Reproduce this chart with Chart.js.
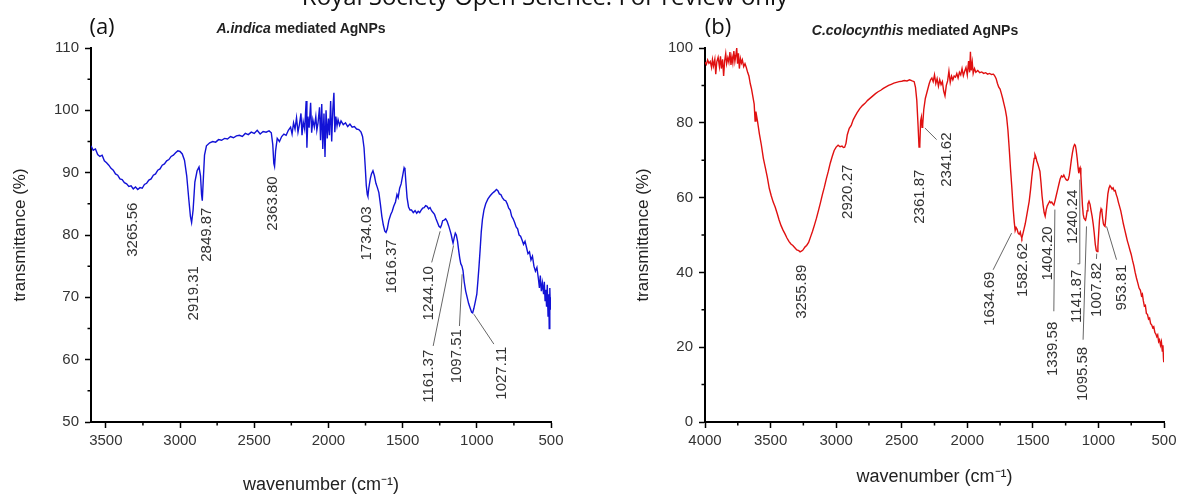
<!DOCTYPE html>
<html>
<head>
<meta charset="utf-8">
<script src="https://cdn.jsdelivr.net/npm/chart.js@4"></script>
<style>
  body { margin: 0; background: #fff; }
  #page { position: relative; width: 1184px; height: 502px; overflow: hidden; font-family: "Liberation Sans", Arial, sans-serif; }
  canvas { position: absolute; top: 0; }
  .txt { position: absolute; white-space: nowrap; transform: translate(-50%, -50%); color: #111; z-index: 2; }
  .hdr { font-family: "Open Sans", sans-serif; font-size: 24px; line-height: 1; transform: translateX(-50%); top: -16px; left: 545px; }
  .pan { font-family: "Open Sans", sans-serif; font-size: 22px; line-height: 1; }
  .ttl { font-weight: bold; font-size: 14px; color: #222; }
</style>
</head>
<body>
<div id="page">
  <div class="txt hdr">Royal Society Open Science: For review only</div>
  <div class="txt pan" style="left:102px; top:25px;">(a)</div>
  <div class="txt pan" style="left:718px; top:25px;">(b)</div>
  <div class="txt ttl" style="left:301px; top:28px;"><i>A.indica</i> mediated AgNPs</div>
  <div class="txt ttl" style="left:915px; top:30px;"><i>C.colocynthis</i> mediated AgNPs</div>
  <canvas id="chartA" width="592" height="502" style="left:0"></canvas>
  <canvas id="chartB" width="592" height="502" style="left:592px"></canvas>
</div>
<script>
// (a) A.indica spectrum
const aWave = [3600,3585,3570,3555,3540,3525,3510,3495,3480,3465,3450,3435,3420,3405,3390,3375,3360,3345,3330,3315,
  3300,3285,3270,3255,3240,3225,3210,3195,3180,3165,3150,3135,3120,3105,3090,3075,3060,3045,3030,3015,
  3000,2985,2970,2955,2940,2930,2922,2912,2900,2885,2872,2862,2855,2850,2843,2835,2822,2800,2780,2760,
  2740,2720,2700,2680,2660,2640,2620,2600,2580,2560,2540,2520,2500,2480,2460,2440,2420,2400,2385,2375,
  2368,2363,2356,2345,2330,2315,2300,2285,2270,2255,2245,2235,2225,2215,2205,2195,2185,2178,2170,2160,
  2150,2145,2138,2130,2120,2113,2105,2095,2085,2078,2070,2060,2053,2045,2038,2030,2023,2016,2008,2000,
  1993,1985,1978,1970,1963,1957,1950,1942,1935,1925,1915,1900,1885,1870,1855,1840,1825,1810,1795,1780,
  1770,1760,1752,1745,1738,1734,1728,1718,1710,1700,1690,1680,1670,1660,1650,1640,1630,1620,1612,1603,
  1593,1580,1570,1560,1548,1538,1530,1520,1510,1500,1490,1484,1478,1470,1460,1450,1440,1428,1416,1405,
  1395,1385,1375,1365,1355,1345,1335,1325,1315,1305,1295,1285,1275,1265,1255,1245,1238,1230,1220,1210,
  1200,1190,1180,1172,1165,1160,1153,1145,1138,1130,1122,1115,1108,1100,1093,1085,1075,1065,1055,1045,
  1035,1028,1020,1010,1000,992,985,978,970,962,952,940,925,910,895,880,868,858,848,838,
  828,815,805,795,785,775,765,755,745,735,725,715,705,695,685,675,665,655,645,635,
  625,615,605,595,585,578,572,565,558,550,545,540,535,530,525,520,515,512,508,504,500];
const aTrans = [94.3,93.6,93.8,92.9,92.6,92.8,91.9,91.6,91.2,90.7,90.4,89.8,89.6,89.0,88.9,88.4,88.2,87.8,87.9,87.4,
  87.7,87.3,87.6,87.5,88.1,88.3,88.8,89.0,89.6,89.8,90.4,90.6,91.2,91.4,91.9,92.1,92.6,92.8,93.2,93.5,
  93.4,93.0,92.0,89.5,85.5,83.0,82.0,84.0,88.5,90.3,90.9,89.5,86.5,85.5,89.0,92.8,94.3,94.8,95.0,94.9,
  95.3,95.2,95.5,95.4,95.8,95.6,95.9,96.0,95.8,96.3,96.1,96.5,96.3,96.8,96.2,96.6,96.5,96.7,96.4,94.5,
  91.5,91.0,93.5,95.5,95.0,95.8,96.2,96.0,96.8,97.3,96.2,98.0,97.0,98.8,96.5,97.8,99.5,96.0,98.2,97.0,
  101.5,94.0,99.0,97.2,101.2,96.4,98.5,97.3,99.0,96.8,98.0,100.5,95.2,101.0,93.8,99.5,92.5,100.0,95.5,98.7,
  96.0,101.5,95.0,100.2,102.8,96.5,99.0,97.5,98.5,97.6,98.3,97.7,98.0,97.4,97.8,97.3,97.4,97.0,96.9,96.5,
  95.8,94.0,91.0,88.0,86.5,86.2,87.5,89.0,89.8,90.3,89.5,88.3,87.6,86.8,85.0,83.0,81.6,80.6,80.4,81.0,
  82.3,83.3,83.8,84.6,85.3,86.5,86.0,87.5,88.2,89.5,90.8,90.5,88.5,86.0,84.5,84.0,84.0,83.6,83.9,83.5,
  83.8,83.6,84.0,84.3,84.4,84.7,84.6,84.2,84.4,83.9,83.6,83.3,82.6,82.0,81.4,81.2,81.6,82.3,82.4,82.6,
  82.2,81.5,80.7,80.0,79.2,78.7,79.5,80.3,80.0,79.0,77.5,76.3,75.4,75.0,74.3,72.5,71.0,70.0,69.0,68.3,
  67.6,67.5,68.2,69.3,70.5,72.8,75.0,77.5,80.5,82.5,84.0,85.0,85.8,86.3,86.7,87.0,87.3,87.1,86.6,86.5,
  86.0,85.6,85.5,85.0,84.3,84.0,83.0,82.6,82.0,81.3,81.0,80.0,79.8,79.2,78.5,79.0,78.0,77.0,77.3,76.0,
  76.6,75.0,74.2,74.8,73.0,71.5,73.5,71.0,72.3,70.5,72.5,69.5,71.2,68.5,72.0,67.0,70.5,65.0,71.5,68.0,70.0];

// (b) C.colocynthis spectrum
const bWave = [4000,3990,3980,3970,3960,3950,3943,3935,3925,3918,3910,3900,3890,3882,3875,3866,3858,3850,3842,3835,
  3826,3818,3810,3802,3795,3788,3780,3772,3765,3758,3752,3745,3738,3730,3722,3715,3705,3695,3685,3675,
  3665,3655,3645,3635,3625,3618,3612,3600,3585,3570,3555,3540,3525,3510,3495,3480,3465,3450,3435,3420,
  3405,3390,3375,3360,3345,3330,3315,3300,3285,3275,3265,3255,3245,3235,3225,3210,3195,3180,3165,3150,
  3135,3120,3105,3090,3075,3060,3045,3030,3015,3000,2985,2970,2955,2945,2935,2925,2915,2900,2885,2870,
  2855,2840,2820,2800,2780,2760,2740,2720,2700,2680,2660,2640,2620,2600,2580,2560,2540,2520,2500,2480,
  2460,2440,2420,2405,2395,2385,2375,2368,2362,2356,2350,2345,2340,2332,2320,2305,2290,2280,2270,2260,
  2250,2240,2230,2220,2210,2200,2190,2180,2170,2160,2150,2140,2130,2120,2110,2100,2090,2080,2070,2060,
  2050,2040,2030,2020,2010,2000,1990,1982,1976,1970,1962,1955,1945,1935,1920,1905,1890,1875,1860,1845,
  1830,1815,1800,1790,1780,1770,1760,1750,1740,1730,1720,1710,1700,1690,1680,1670,1660,1650,1642,1635,
  1628,1620,1612,1604,1596,1590,1584,1576,1568,1558,1548,1538,1528,1518,1508,1498,1490,1484,1478,1470,
  1462,1454,1446,1438,1430,1422,1414,1406,1398,1390,1380,1372,1364,1356,1348,1340,1332,1322,1312,1302,
  1292,1282,1272,1264,1255,1246,1238,1230,1222,1214,1206,1198,1190,1182,1176,1170,1162,1155,1150,1146,
  1140,1134,1128,1122,1116,1110,1104,1098,1092,1086,1080,1072,1064,1056,1048,1040,1032,1024,1016,1010,
  1004,998,992,986,980,974,968,962,956,950,944,936,928,920,912,904,896,888,880,872,
  864,856,848,840,830,820,810,800,790,780,770,760,750,740,730,720,710,700,690,680,
  672,665,658,650,642,634,626,618,610,602,594,586,578,570,562,555,548,541,534,527,
  520,513,508,504,502,500];
const bTrans = [96.2,95.6,96.8,95.9,96.4,94.8,96.9,95.2,97.0,93.0,96.3,97.5,95.0,97.8,94.5,97.0,92.5,96.6,98.5,95.8,
  97.4,96.2,98.9,95.5,97.6,96.0,99.2,96.4,98.0,100.0,95.8,98.6,94.5,97.2,96.0,96.8,95.0,95.8,94.8,93.5,
  92.5,90.5,89.0,87.0,85.0,80.5,83.0,80.5,77.0,74.0,70.5,68.0,65.5,62.5,60.5,58.8,57.5,55.8,54.0,52.5,
  51.3,50.3,49.2,48.3,47.6,47.2,46.6,46.0,45.8,45.5,45.7,45.9,46.4,46.9,47.2,48.0,49.5,51.0,52.7,54.5,
  56.5,58.6,60.8,62.8,65.0,67.0,69.2,71.0,72.6,73.5,74.0,73.6,73.8,73.4,73.5,74.5,76.8,78.5,79.3,80.8,
  81.8,82.7,83.8,84.6,85.2,86.0,86.6,87.2,87.8,88.3,88.7,89.2,89.6,90.0,90.3,90.6,90.8,91.0,91.1,91.3,
  91.2,91.5,91.2,91.0,89.5,86.0,79.0,73.5,74.0,80.5,81.5,78.8,79.5,83.5,86.5,88.5,90.5,91.5,92.0,91.0,
  92.8,90.5,91.8,89.8,91.5,90.2,91.0,88.5,87.2,90.0,91.2,93.8,90.8,92.5,91.5,92.5,92.2,93.2,92.0,93.5,
  92.8,94.5,92.6,93.8,94.8,92.8,96.5,93.5,99.0,94.0,96.2,93.2,94.5,93.5,94.0,93.4,93.6,93.2,93.4,93.0,
  93.2,92.9,93.0,92.5,91.8,90.5,89.5,89.0,87.8,86.5,85.0,83.5,81.5,78.0,73.0,67.5,62.5,57.0,53.5,51.2,
  52.0,51.5,50.5,50.2,50.8,49.8,49.2,50.3,51.5,53.0,55.0,57.0,59.0,62.0,65.5,68.5,70.5,71.5,71.0,69.8,
  69.0,68.0,67.0,64.0,60.5,58.0,56.0,55.0,56.8,57.8,58.5,59.0,58.6,58.8,58.3,58.0,59.0,60.5,62.0,63.5,
  65.0,65.8,65.5,66.0,65.3,64.8,64.6,64.8,66.0,68.0,70.2,72.0,73.5,74.2,74.0,72.8,70.5,68.0,66.5,67.5,
  68.0,66.0,62.0,58.0,55.5,54.5,54.2,54.0,55.0,56.5,58.3,59.0,58.2,56.5,55.0,53.0,50.5,47.5,45.8,45.6,
  47.0,50.5,54.0,56.0,57.0,56.5,54.5,53.0,52.5,52.3,54.5,58.0,61.0,62.5,63.2,62.8,62.3,62.6,61.8,61.9,
  60.8,60.0,58.8,57.8,56.5,54.8,53.0,51.5,50.0,48.5,47.3,46.0,44.8,43.2,41.8,40.0,38.5,37.2,35.8,35.2,
  33.8,34.2,32.5,31.0,31.2,29.0,28.8,27.5,27.8,26.3,26.0,25.2,25.5,24.0,23.5,22.8,23.3,21.5,22.0,20.5,
  21.5,19.0,20.5,17.0,16.0,18.5];

// peak labels: text, where the top of the rotated text sits (wavenumber, %T), leader lines
const aPeakText = ['3265.56','2919.31','2849.87','2363.80','1734.03','1616.37','1244.10','1161.37','1097.51','1027.11'];
const aPeakAt = [[3317,85.2],[2910,75.0],[2822,84.4],[2372,89.4],[1742,84.6],[1574,79.3],[1324,75.0],[1324,61.6],[1132,64.9],[829,62.1]];
const aLeaders = [
  [[1304,75.6],[1247,80.6]],
  [[1294,62.2],[1157,78.3]],
  [[1117,65.4],[1099,73.7]],
  [[885,62.5],[1020,67.3]]
];
const bPeakText = ['3255.89','2920.27','2361.87','2341.62','1634.69','1582.62','1404.20','1339.58','1240.24','1141.87','1095.58','1007.82','953.81'];
const bPeakAt = [[3263,42.1],[2908,68.8],[2361,67.5],[2158,77.4],[1828,40.2],[1574,47.9],[1383,52.3],[1345,26.8],[1193,62.1],[1167,40.7],[1117,20.1],[1015,42.6],[824,42.1]];
const bLeaders = [
  [[2234,75.5],[2323,78.6]],
  [[1803,40.7],[1662,50.5]],
  [[1340,29.6],[1332,56.8]],
  [[1160,42.3],[1142,42.3],[1142,64.8]],
  [[1117,22.0],[1091,52.3]],
  [[1015,43.6],[1013,45.0]],
  [[862,43.4],[938,52.3]]
];

Chart.defaults.font.family = '"Liberation Sans", Arial, sans-serif';
Chart.defaults.color = '#333';

const toPoints = (xs, ys) => xs.map((x, i) => ({ x: x, y: ys[i] }));

const peakLabels = {
  id: 'peakLabels',
  afterDatasetsDraw(chart, args, opts) {
    const { ctx, scales: { x, y } } = chart;
    ctx.save();
    ctx.strokeStyle = '#666';
    ctx.lineWidth = 1;
    opts.leaders.forEach(pts => {
      ctx.beginPath();
      pts.forEach(([w, t], i) => {
        const px = x.getPixelForValue(w), py = y.getPixelForValue(t);
        if (i) ctx.lineTo(px, py); else ctx.moveTo(px, py);
      });
      ctx.stroke();
    });
    ctx.fillStyle = '#333';
    ctx.font = '15px "Liberation Sans", Arial, sans-serif';
    ctx.textAlign = 'right';
    ctx.textBaseline = 'middle';
    opts.text.forEach((s, i) => {
      const [w, t] = opts.at[i];
      ctx.save();
      ctx.translate(x.getPixelForValue(w), y.getPixelForValue(t));
      ctx.rotate(-Math.PI / 2);
      ctx.fillText(s, 0, 0);
      ctx.restore();
    });
    ctx.restore();
  }
};

// short unlabeled ticks between the labeled ones
const minorTicks = {
  id: 'minorTicks',
  afterDraw(chart) {
    const { ctx, chartArea: a, scales: { x, y } } = chart;
    ctx.save();
    ctx.strokeStyle = '#000';
    ctx.lineWidth = 1.5;
    ctx.beginPath();
    x.ticks.forEach(t => {
      if (t.label !== '') return;
      const px = x.getPixelForValue(t.value);
      ctx.moveTo(px, a.bottom);
      ctx.lineTo(px, a.bottom + 3.5);
    });
    y.ticks.forEach(t => {
      if (t.label !== '') return;
      const py = y.getPixelForValue(t.value);
      ctx.moveTo(a.left, py);
      ctx.lineTo(a.left - 3.5, py);
    });
    ctx.stroke();
    ctx.restore();
  }
};

function makeChart(id, o) {
  const majorColor = c => (c.tick && c.tick.label !== '') ? '#000' : 'rgba(0,0,0,0)';
  return new Chart(document.getElementById(id), {
    type: 'line',
    data: {
      datasets: [{
        data: toPoints(o.wave, o.trans),
        borderColor: o.color,
        borderWidth: 1.4,
        pointRadius: 0,
        tension: 0,
        fill: false
      }]
    },
    options: {
      responsive: false,
      animation: false,
      layout: { padding: { top: 48, right: o.padRight, bottom: 0, left: 0 } },
      plugins: {
        legend: { display: false },
        tooltip: { enabled: false },
        peakLabels: { text: o.peakText, at: o.peakAt, leaders: o.leaders }
      },
      scales: {
        x: {
          type: 'linear',
          reverse: true,
          min: 500,
          max: o.xMax,
          afterFit: s => { s.height = 80; },
          ticks: {
            stepSize: 250,
            includeBounds: false,
            autoSkip: false,
            maxRotation: 0,
            padding: 4,
            font: { size: 15 },
            callback: v => (v % 500 === 0 ? String(v) : '')
          },
          grid: { drawOnChartArea: false, tickLength: 6, tickWidth: 1.5, tickColor: majorColor },
          border: { color: '#000', width: 2 },
          title: {
            display: true,
            text: 'wavenumber (cm\u207B\u00B9)',
            font: { size: 18 },
            color: '#222',
            padding: { top: 0, bottom: o.xTitlePad }
          }
        },
        y: {
          min: o.yMin,
          max: o.yMax,
          afterFit: s => { s.width = o.yWidth; },
          ticks: {
            stepSize: o.yStep,
            padding: 6,
            font: { size: 15 },
            callback: v => (v % (o.yStep * 2) === 0 ? String(v) : '')
          },
          grid: { drawOnChartArea: false, tickLength: 6, tickWidth: 1.5, tickColor: majorColor },
          border: { color: '#000', width: 2 },
          title: {
            display: true,
            text: 'transmittance (%)',
            font: { size: 17 },
            color: '#222',
            padding: { top: o.yTitlePad, bottom: 0 }
          }
        }
      }
    },
    plugins: [peakLabels, minorTicks]
  });
}

makeChart('chartA', {
  wave: aWave, trans: aTrans, color: '#1212d6',
  xMax: 3600, yMin: 50, yMax: 110, yStep: 5,
  yWidth: 91, padRight: 41, yTitlePad: 10, xTitlePad: 6,
  peakText: aPeakText, peakAt: aPeakAt, leaders: aLeaders
});

makeChart('chartB', {
  wave: bWave, trans: bTrans, color: '#e01010',
  xMax: 4000, yMin: 0, yMax: 100, yStep: 10,
  yWidth: 113, padRight: 20, yTitlePad: 41, xTitlePad: 14,
  peakText: bPeakText, peakAt: bPeakAt, leaders: bLeaders
});
</script>
</body>
</html>
